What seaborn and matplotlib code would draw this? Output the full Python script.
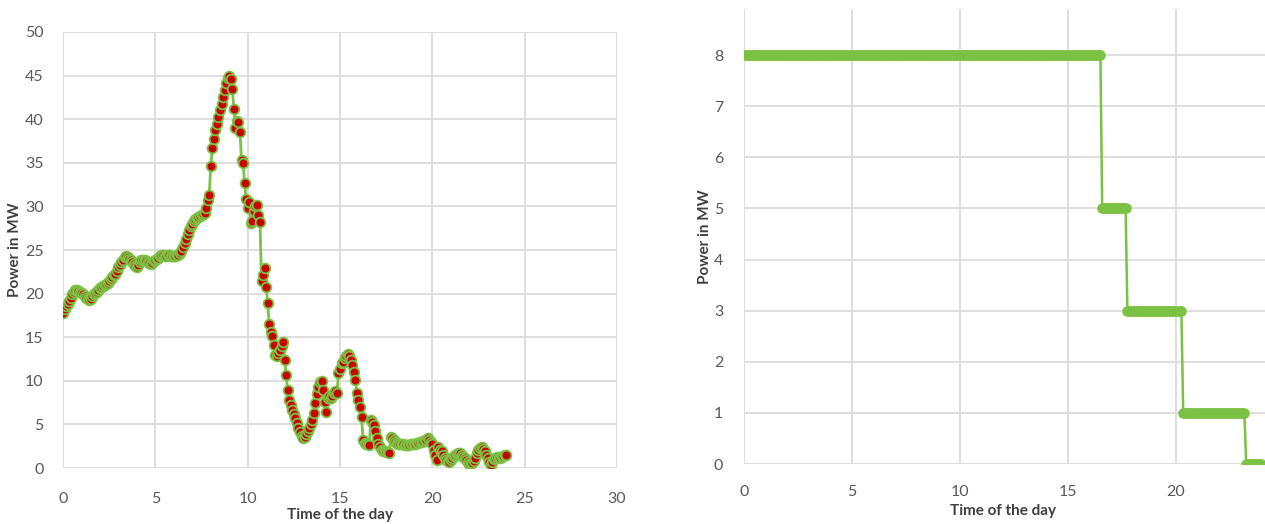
import numpy as np
import pandas as pd
import matplotlib
matplotlib.use("Agg")
import matplotlib.pyplot as plt
import seaborn as sns

# ---- Left panel: power demand over the day, 5-minute resolution (0 h .. 24 h) ----
demand_mw = [
    # 0 h
    17.8, 18.2, 18.6, 18.8, 19.2, 19.5, 19.9, 20.2, 20.4, 20.4, 20.3, 20.2,
    # 1 h
    20.1, 19.9, 19.7, 19.5, 19.4, 19.3, 19.4, 19.7, 19.9, 20.1, 20.2, 20.4,
    # 2 h
    20.6, 20.8, 20.9, 21.0, 21.1, 21.2, 21.4, 21.7, 21.9, 22.1, 22.3, 22.6,
    # 3 h
    23.0, 23.3, 23.6, 23.9, 24.2, 24.3, 24.2, 24.0, 23.8, 23.6, 23.4, 23.2,
    # 4 h
    23.1, 23.3, 23.6, 23.8, 23.9, 23.8, 23.7, 23.6, 23.5, 23.4, 23.5, 23.7,
    # 5 h
    23.9, 24.0, 24.1, 24.3, 24.4, 24.4, 24.3, 24.3, 24.4, 24.4, 24.3, 24.3,
    # 6 h
    24.3, 24.3, 24.4, 24.4, 24.6, 24.9, 25.3, 25.8, 26.3, 26.8, 27.3, 27.7,
    # 7 h
    28.0, 28.3, 28.5, 28.7, 28.8, 28.9, 29.0, 29.1, 29.2, 29.8, 30.7, 31.3,
    # 8 h
    34.6, 36.7, 37.7, 38.8, 39.5, 40.2, 41.0, 41.8, 42.6, 43.3, 44.1, 44.7,
    # 9 h
    45.0, 44.6, 43.5, 41.2, 39.0, 39.8, 39.7, 38.5, 35.3, 35.0, 32.7, 30.9,
    # 10 h
    29.8, 30.5, 28.1, 28.3, 29.5, 30.0, 30.2, 29.0, 28.2, 21.4, 22.1, 22.9,
    # 11 h
    20.8, 18.9, 16.5, 15.6, 15.1, 14.1, 13.0, 12.8, 13.2, 13.5, 14.0, 14.4,
    # 12 h
    12.4, 10.7, 8.9, 7.8, 7.2, 6.6, 6.2, 5.7, 5.2, 4.6, 4.1, 3.7,
    # 13 h
    3.4, 3.6, 3.9, 4.3, 4.6, 5.0, 5.5, 6.3, 7.5, 8.5, 9.3, 9.9,
    # 14 h
    10.0, 9.0, 7.6, 6.4, 8.0, 8.3, 8.0, 8.2, 8.6, 8.8, 8.6, 10.9,
    # 15 h
    11.4, 12.0, 12.2, 12.6, 12.9, 13.1, 12.9, 12.4, 11.8, 11.0, 10.1, 8.6,
    # 16 h
    7.8, 7.0, 5.8, 3.2, 2.9, 2.8, 2.7, 2.6, 5.5, 5.3, 4.9, 4.2,
    # 17 h
    3.4, 2.8, 2.4, 2.1, 2.0, 1.9, 1.8, 1.8, 1.7, 3.6, 3.4, 3.2,
    # 18 h
    3.0, 2.9, 2.8, 2.8, 2.7, 2.7, 2.6, 2.6, 2.6, 2.6, 2.7, 2.7,
    # 19 h
    2.8, 2.8, 2.9, 2.9, 3.0, 3.0, 3.1, 3.2, 3.2, 3.4, 3.2, 3.0,
    # 20 h
    2.8, 2.1, 1.5, 0.9, 2.4, 2.1, 1.9, 1.5, 1.1, 0.9, 0.8, 0.7,
    # 21 h
    0.9, 1.1, 1.4, 1.5, 1.6, 1.7, 1.7, 1.5, 1.3, 1.1, 0.9, 0.7,
    # 22 h
    0.5, 0.5, 0.6, 0.8, 1.2, 1.7, 2.1, 2.3, 2.4, 2.2, 1.9, 1.5,
    # 23 h
    1.1, 0.7, 0.3, 0.7, 1.0, 1.2, 1.3, 1.3, 1.2, 1.3, 1.4, 1.5,
    # 24 h
    1.5,
]
demand_hours = np.arange(len(demand_mw)) / 12.0

# ---- Right panel: stepped power schedule, 5-minute resolution ----
step_levels_mw = [8, 5, 3, 1, 0]
step_counts = [199, 14, 31, 35, 9]          # number of 5-minute slots at each level
schedule_mw = np.repeat(step_levels_mw, step_counts)
schedule_hours = np.arange(len(schedule_mw)) / 12.0

left_xticks = [0, 5, 10, 15, 20, 25, 30]
left_yticks = [0, 5, 10, 15, 20, 25, 30, 35, 40, 45, 50]
right_xticks = [0, 5, 10, 15, 20]
right_yticks = [0, 1, 2, 3, 4, 5, 6, 7, 8]

GREEN = "#7bc143"
RED = "#c80000"
GRID = "#dedede"
TICK = "#595959"
LABEL = "#404040"

sns.set_theme(style="whitegrid")
plt.rcParams["font.family"] = ["Lato", "DejaVu Sans"]
plt.rcParams["grid.color"] = GRID
plt.rcParams["grid.linewidth"] = 1.4

fig = plt.figure(figsize=(12.65, 5.24), dpi=100)
ax1 = fig.add_axes([63 / 1265, 1 - 468 / 524, 554 / 1265, 436 / 524])
ax2 = fig.add_axes([744 / 1265, 1 - 464 / 524, 521 / 1265, 455 / 524])

df1 = pd.DataFrame({"hour": demand_hours, "mw": demand_mw})
sns.lineplot(data=df1, x="hour", y="mw", ax=ax1, sort=False, estimator=None,
             color=GREEN, linewidth=2.0, marker="o", markersize=7.0,
             markerfacecolor=RED, markeredgecolor=GREEN, markeredgewidth=1.3)

df2 = pd.DataFrame({"hour": schedule_hours, "mw": schedule_mw})
sns.lineplot(data=df2, x="hour", y="mw", ax=ax2, sort=False, estimator=None,
             color=GREEN, linewidth=1.8, marker="o", markersize=7.6,
             markerfacecolor=GREEN, markeredgecolor=GREEN, markeredgewidth=0)

ax1.set_xlim(0, 30)
ax1.set_ylim(0, 50)
ax1.set_xticks(left_xticks)
ax1.set_yticks(left_yticks)

ax2.set_xlim(0, 521 / 21.6)
ax2.set_ylim(0, 8.9)
ax2.set_xticks(right_xticks)
ax2.set_yticks(right_yticks)

for ax in (ax1, ax2):
    for s in ax.spines.values():
        s.set_visible(False)
    ax.grid(True, color=GRID, linewidth=1.4)
    ax.set_axisbelow(True)
    ax.tick_params(axis="both", labelsize=11.5, labelcolor=TICK, length=0)
    ax.set_xlabel("Time of the day", fontsize=11, fontweight="bold", color=LABEL)
    ax.set_ylabel("Power in MW", fontsize=11, fontweight="bold", color=LABEL)

ax1.tick_params(axis="x", pad=17)
ax1.tick_params(axis="y", pad=14)
ax2.tick_params(axis="x", pad=15)
ax2.tick_params(axis="y", pad=15)

ax1.xaxis.set_label_coords(0.5, -0.092)
ax1.yaxis.set_label_coords(-0.074, 0.5)
ax2.xaxis.set_label_coords(0.497, -0.088)
ax2.yaxis.set_label_coords(-0.061, 0.5)

fig.savefig("out.png", dpi=100)
